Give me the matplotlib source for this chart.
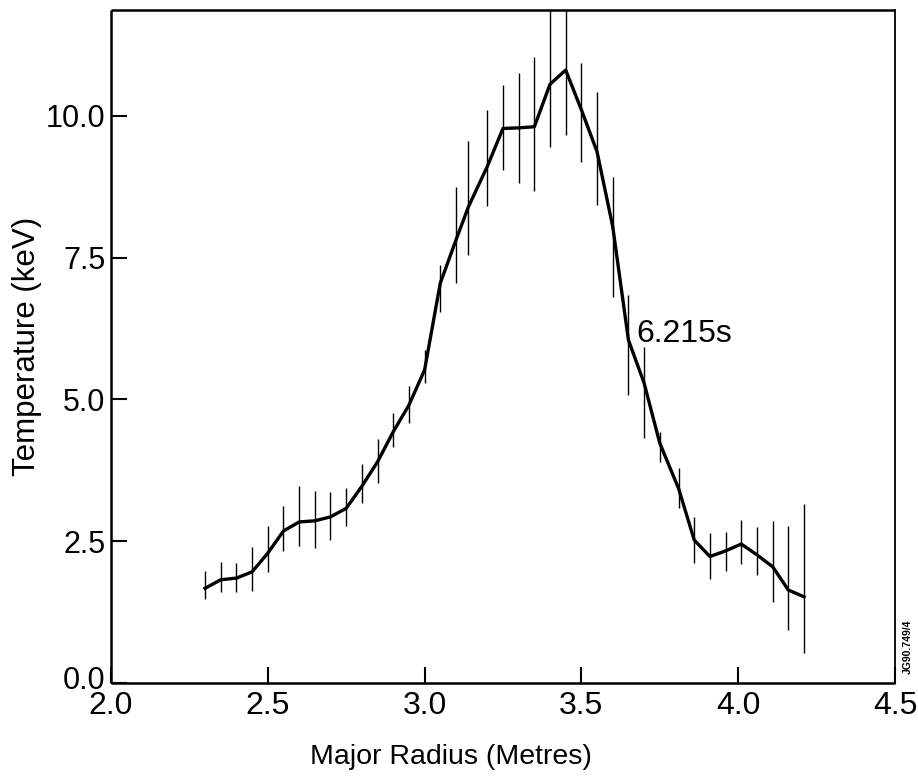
import numpy as np
import matplotlib.pyplot as plt
from matplotlib.transforms import ScaledTranslation

# major radius of each channel (m)
radius = [2.30, 2.35, 2.40, 2.45, 2.50, 2.55, 2.60, 2.65, 2.70, 2.75,
          2.80, 2.85, 2.90, 2.95, 3.00, 3.05, 3.10, 3.14, 3.20, 3.25,
          3.30, 3.35, 3.40, 3.45, 3.50, 3.55, 3.60, 3.65, 3.70, 3.75,
          3.81, 3.86, 3.91, 3.96, 4.01, 4.06, 4.11, 4.16, 4.21]
# fitted temperature profile (keV)
temperature = [1.67, 1.82, 1.85, 1.96, 2.29, 2.68, 2.84, 2.86, 2.93, 3.08,
               3.47, 3.90, 4.43, 4.90, 5.52, 7.05, 7.81, 8.40, 9.11, 9.78,
               9.79, 9.81, 10.56, 10.81, 10.11, 9.37, 8.05, 6.05, 5.29, 4.23,
               3.43, 2.52, 2.23, 2.33, 2.45, 2.26, 2.05, 1.64, 1.52]
# error bar extents (keV)
err_low = [1.48, 1.60, 1.60, 1.63, 1.95, 2.32, 2.42, 2.38, 2.52, 2.77,
           3.18, 3.52, 4.17, 4.58, 5.29, 6.55, 7.05, 7.55, 8.41, 9.05,
           8.82, 8.67, 9.46, 9.66, 9.18, 8.43, 6.81, 5.08, 4.32, 3.90,
           3.08, 2.11, 1.83, 1.98, 2.10, 1.90, 1.42, 0.93, 0.52]
err_high = [1.98, 2.14, 2.12, 2.40, 2.76, 3.13, 3.48, 3.39, 3.37, 3.43,
            3.86, 4.30, 4.76, 5.23, 5.87, 7.37, 8.74, 9.55, 10.11, 10.55,
            10.75, 11.04, 12.3, 12.3, 10.94, 10.43, 8.93, 6.84, 5.93, 4.43,
            3.79, 2.93, 2.64, 2.67, 2.87, 2.75, 2.86, 2.77, 3.16]

x_ticks = [2.0, 2.5, 3.0, 3.5, 4.0, 4.5]
y_ticks = [0.0, 2.5, 5.0, 7.5, 10.0]

fig = plt.figure(figsize=(9.18, 7.77), dpi=100)
ax = fig.add_axes([0.1209, 0.1210, 0.8540, 0.8662])

ax.vlines(radius, err_low, err_high, colors='black', linewidth=1.0)
ax.plot(radius, temperature, color='black', linewidth=2.4, solid_joinstyle='round')

ax.set_xlim(2.0, 4.5)
ax.set_ylim(0.0, 11.87)

ax.set_xticks(x_ticks)
ax.set_xticklabels(['%.1f' % v for v in x_ticks], family='Liberation Sans', fontsize=23)
ax.set_yticks(y_ticks)
ax.set_yticklabels(['%.1f' % v for v in y_ticks], family='Liberation Sans', fontsize=22)
ax.tick_params(direction='in', length=11.5, width=1.5, pad=4, top=False, right=False)
ax.tick_params(axis='x', pad=6)

# the 0.0 label sits a little above its tick, clear of the 2.0 below it
zero_lab = ax.get_yticklabels()[0]
zero_lab.set_transform(zero_lab.get_transform() +
                       ScaledTranslation(0, 4 / 72, fig.dpi_scale_trans))

for side in ['left', 'bottom', 'top']:
    ax.spines[side].set_linewidth(1.8)
    ax.spines[side].set_capstyle('butt')
ax.spines['right'].set_linewidth(1.3)

ax.set_xlabel('Major Radius (Metres)', family='Liberation Sans', fontsize=20.5)
ax.xaxis.set_label_coords(0.434, -0.090)
ax.set_ylabel('Temperature (keV)', family='Liberation Sans', fontsize=22.5)
ax.yaxis.set_label_coords(-0.088, 0.5)

ax.text(3.677, 6.16, '6.215s', family='Liberation Sans', fontsize=23,
        ha='left', va='center')

fig.text(0.989, 0.168, 'JG90.749/4', rotation=90, family='Liberation Sans',
         fontsize=7.5, fontweight='bold', ha='center', va='center')

fig.savefig('out.png', dpi=100)
